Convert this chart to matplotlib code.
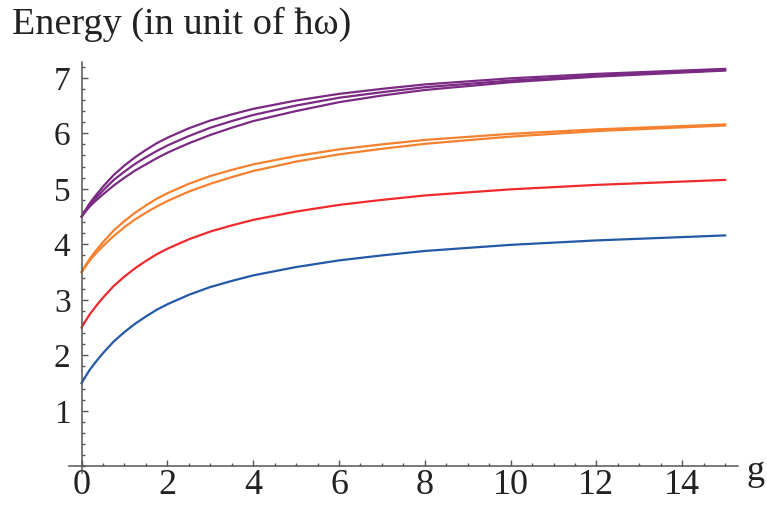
import matplotlib
matplotlib.use("Agg")
import matplotlib.pyplot as plt
from matplotlib.ticker import MultipleLocator, FixedLocator

plt.rcParams['font.family'] = ['Liberation Serif', 'DejaVu Serif']

# coupling strength g and the energy levels read at those points
g = [0, 0.1, 0.2, 0.35, 0.5, 0.75, 1, 1.25, 1.5, 1.75, 2, 2.5, 3, 3.5, 4, 5, 6, 7, 8, 10, 12, 15]

e_n1 = [1.50, 1.63, 1.75, 1.90, 2.04, 2.25, 2.42, 2.57, 2.70, 2.82, 2.92,
        3.09, 3.23, 3.34, 3.44, 3.59, 3.71, 3.80, 3.88, 3.99, 4.07, 4.16]
e_n2 = [2.50, 2.63, 2.75, 2.90, 3.04, 3.25, 3.42, 3.57, 3.70, 3.82, 3.92,
        4.09, 4.23, 4.34, 4.44, 4.59, 4.71, 4.80, 4.88, 4.99, 5.07, 5.16]
e_n3a = [3.50, 3.63, 3.75, 3.90, 4.04, 4.25, 4.42, 4.57, 4.70, 4.82, 4.92,
         5.09, 5.23, 5.34, 5.44, 5.59, 5.71, 5.80, 5.88, 5.99, 6.07, 6.16]
e_n3b = [3.50, 3.61, 3.72, 3.85, 3.97, 4.15, 4.31, 4.45, 4.57, 4.68, 4.78,
         4.95, 5.09, 5.21, 5.32, 5.49, 5.62, 5.72, 5.81, 5.94, 6.04, 6.14]
e_n4a = [4.50, 4.63, 4.75, 4.90, 5.04, 5.25, 5.42, 5.57, 5.70, 5.82, 5.92,
         6.09, 6.23, 6.34, 6.44, 6.59, 6.71, 6.80, 6.88, 6.99, 7.07, 7.16]
e_n4b = [4.50, 4.61, 4.72, 4.85, 4.97, 5.16, 5.31, 5.45, 5.57, 5.68, 5.78,
         5.95, 6.10, 6.22, 6.33, 6.50, 6.64, 6.74, 6.83, 6.95, 7.04, 7.14]
e_n4c = [4.50, 4.60, 4.69, 4.80, 4.90, 5.06, 5.20, 5.33, 5.44, 5.55, 5.65,
         5.82, 5.97, 6.10, 6.22, 6.40, 6.56, 6.68, 6.78, 6.92, 7.02, 7.13]

x_ticks = [0, 2, 4, 6, 8, 10, 12, 14]
y_ticks = [1, 2, 3, 4, 5, 6, 7]

blue = '#2458a8'
red = '#ee2a2e'
orange = '#f5812f'
purple = '#7b2a83'

fig = plt.figure(figsize=(7.67, 5.08), dpi=100)
ax = fig.add_axes([0.0896, 0.0689, 0.8726, 0.8097])

lw = 1.6
ax.plot(g, e_n1, color=blue, lw=lw)
ax.plot(g, e_n2, color=red, lw=lw)
for e in (e_n3a, e_n3b):
    ax.plot(g, e, color=orange, lw=lw)
for e in (e_n4a, e_n4b, e_n4c):
    ax.plot(g, e, color=purple, lw=lw)

ax.set_xlim(-0.3, 15.3)
ax.set_ylim(-0.12, 7.29)

# axes crossing at the origin, Mathematica style
for s in ('top', 'right'):
    ax.spines[s].set_visible(False)
ax.spines['left'].set_position(('data', 0))
ax.spines['bottom'].set_position(('data', 0))
for s in ('left', 'bottom'):
    ax.spines[s].set_color('#555555')
    ax.spines[s].set_linewidth(1.1)

ax.xaxis.set_major_locator(FixedLocator(x_ticks))
ax.xaxis.set_minor_locator(MultipleLocator(0.5))
ax.yaxis.set_major_locator(FixedLocator(y_ticks))
ax.yaxis.set_minor_locator(MultipleLocator(0.2))
ax.set_xticklabels([str(t) for t in x_ticks])
ax.set_yticklabels([str(t) for t in y_ticks])

ax.tick_params(which='both', direction='in', color='#555555', width=1.0)
ax.tick_params(which='major', length=4)
ax.tick_params(which='minor', length=2.5)
ax.tick_params(axis='x', which='major', labelsize=26, pad=2, labelcolor='#222222')
ax.tick_params(axis='y', which='major', labelsize=24, pad=8, labelcolor='#222222')

fig.text(12 / 767, 1 - 34 / 508, 'Energy (in unit of ħω)', fontsize=27.5,
         color='#222222', ha='left', va='baseline')
fig.text(747 / 767, 1 - 480 / 508, 'g', fontsize=26, color='#222222',
         ha='left', va='baseline')

fig.savefig('out.png', dpi=100)
